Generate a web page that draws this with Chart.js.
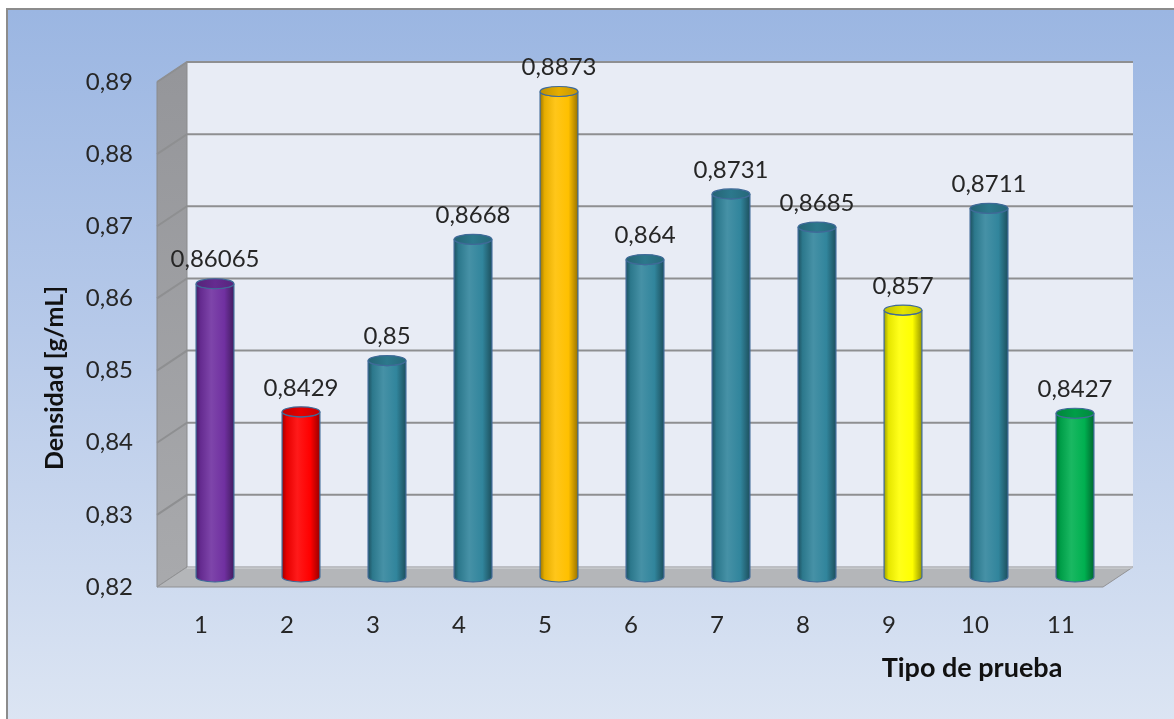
<!DOCTYPE html>
<html>
<head>
<meta charset="utf-8">
<script src="https://cdn.jsdelivr.net/npm/chart.js@4.4.0/dist/chart.umd.min.js"></script>
<style>
    body { margin: 0; background: #fff; overflow: hidden; }
    #frame {
        position: absolute;
        left: 6px;
        top: 8px;
        width: 1170px;
        height: 712px;
        border: 2px solid #8c8c8c;
        background: linear-gradient(to bottom, #9bb6e2 0%, #b6c9e9 45%, #dce5f3 100%);
    }
</style>
</head>
<body>
<div id="frame"><canvas id="myChart" width="1170" height="712"></canvas></div>
<script>
const categories = ['1', '2', '3', '4', '5', '6', '7', '8', '9', '10', '11'];
const densities = [0.86065, 0.8429, 0.85, 0.8668, 0.8873, 0.864, 0.8731, 0.8685, 0.857, 0.8711, 0.8427];
const barColors = ['#7030a0', '#ff0000', '#31859c', '#31859c', '#ffc000', '#31859c',
                   '#31859c', '#31859c', '#ffff00', '#31859c', '#00b050'];
const yMin = 0.82;
const yMax = 0.89;
const yStep = 0.01;
const yTitle = 'Densidad [g/mL]';
const xTitle = 'Tipo de prueba';

// half depth of the 3D box
const DX = 15, DY = 10;
const textColor = '#262626';

function formatComma(v, digits) {
    const s = digits === undefined ? String(v) : v.toFixed(digits);
    return s.replace('.', ',');
}

function shade(hex, amt) {
    const n = parseInt(hex.slice(1), 16);
    let r = (n >> 16) & 255, g = (n >> 8) & 255, b = n & 255;
    const t = amt < 0 ? 0 : 255;
    const p = Math.abs(amt);
    r = Math.round(r + (t - r) * p);
    g = Math.round(g + (t - g) * p);
    b = Math.round(b + (t - b) * p);
    return `rgb(${r},${g},${b})`;
}

function poly(ctx, pts, fill, stroke) {
    ctx.beginPath();
    ctx.moveTo(pts[0][0], pts[0][1]);
    for (let i = 1; i < pts.length; i++) ctx.lineTo(pts[i][0], pts[i][1]);
    ctx.closePath();
    ctx.fillStyle = fill;
    ctx.fill();
    if (stroke) {
        ctx.strokeStyle = stroke;
        ctx.lineWidth = 1;
        ctx.stroke();
    }
}

function drawCylinder(ctx, x, top, base, w, color) {
    const rx = w / 2, ry = 5;
    const g = ctx.createLinearGradient(x - rx, 0, x + rx, 0);
    g.addColorStop(0, shade(color, -0.38));
    g.addColorStop(0.12, shade(color, -0.1));
    g.addColorStop(0.4, shade(color, 0.1));
    g.addColorStop(0.75, color);
    g.addColorStop(1, shade(color, -0.4));

    ctx.beginPath();
    ctx.moveTo(x - rx, top);
    ctx.lineTo(x - rx, base);
    ctx.ellipse(x, base, rx, ry, 0, Math.PI, 0, true);
    ctx.lineTo(x + rx, top);
    ctx.ellipse(x, top, rx, ry, 0, 0, Math.PI, false);
    ctx.closePath();
    ctx.fillStyle = g;
    ctx.fill();
    ctx.strokeStyle = '#3f6a98';
    ctx.lineWidth = 1.2;
    ctx.stroke();

    const tg = ctx.createLinearGradient(x - rx, 0, x + rx, 0);
    tg.addColorStop(0, shade(color, -0.25));
    tg.addColorStop(0.5, shade(color, -0.1));
    tg.addColorStop(1, shade(color, -0.22));
    ctx.beginPath();
    ctx.ellipse(x, top, rx, ry, 0, 0, Math.PI * 2);
    ctx.fillStyle = tg;
    ctx.fill();
    ctx.stroke();
}

const boxPlugin = {
    id: 'box3d',
    beforeDatasetsDraw(chart) {
        const { ctx, chartArea: a, scales: { y } } = chart;
        const l = a.left, r = a.right, t = a.top, b = a.bottom;
        ctx.save();

        ctx.fillStyle = '#e8ecf5';
        ctx.fillRect(l + DX, t - DY, r - l, b - t);

        const lw = ctx.createLinearGradient(0, t, 0, b);
        lw.addColorStop(0, '#95969a');
        lw.addColorStop(1, '#a8a9ac');
        poly(ctx, [[l - DX, t + DY], [l + DX, t - DY], [l + DX, b - DY], [l - DX, b + DY]], lw, '#8a8b8d');

        ctx.strokeStyle = '#8e8f91';
        ctx.lineWidth = 2;
        for (let v = yMin + yStep; v <= yMax + 1e-9; v += yStep) {
            const py = y.getPixelForValue(v);
            ctx.beginPath();
            ctx.moveTo(l - DX, py + DY);
            ctx.lineTo(l + DX, py - DY);
            ctx.lineTo(r + DX, py - DY);
            ctx.stroke();
        }

        poly(ctx, [[l - DX, b + DY], [l + DX, b - DY], [r + DX, b - DY], [r - DX, b + DY]], '#b4b6b9', '#909193');
        ctx.strokeStyle = '#d6d8dc';
        ctx.lineWidth = 1;
        ctx.beginPath();
        ctx.moveTo(l + DX, b - DY + 1);
        ctx.lineTo(r + DX, b - DY + 1);
        ctx.stroke();
        ctx.restore();
    },
    afterDatasetsDraw(chart) {
        const { ctx, scales: { y } } = chart;
        const meta = chart.getDatasetMeta(0);
        const floorY = y.getPixelForValue(yMin);
        ctx.save();
        meta.data.forEach((bar, i) => {
            const p = bar.getProps(['x', 'y', 'width'], true);
            drawCylinder(ctx, p.x, p.y, floorY, p.width, barColors[i]);
        });

        ctx.fillStyle = textColor;
        ctx.font = '24px Lato';
        ctx.textAlign = 'center';
        ctx.textBaseline = 'middle';
        meta.data.forEach((bar, i) => {
            ctx.fillText(formatComma(densities[i]), bar.x, bar.y - 24);
        });
        ctx.restore();
    },
    afterDraw(chart) {
        const { ctx } = chart;
        ctx.save();
        ctx.fillStyle = '#111';
        ctx.font = 'bold 25px Lato';
        ctx.textAlign = 'center';
        ctx.textBaseline = 'middle';
        ctx.translate(47, 368);
        ctx.rotate(-Math.PI / 2);
        ctx.fillText(yTitle, 0, 0);
        ctx.restore();

        ctx.save();
        ctx.fillStyle = '#111';
        ctx.font = 'bold 27px Lato';
        ctx.textAlign = 'center';
        ctx.textBaseline = 'middle';
        ctx.fillText(xTitle, 964, 658);
        ctx.restore();
    }
};

function buildChart() {
    const ctx = document.getElementById('myChart').getContext('2d');
    new Chart(ctx, {
        type: 'bar',
        data: {
            labels: categories,
            datasets: [{
                data: densities,
                backgroundColor: 'rgba(0,0,0,0)',
                borderWidth: 0,
                categoryPercentage: 1,
                barPercentage: 0.44
            }]
        },
        options: {
            responsive: false,
            animation: false,
            layout: { padding: { left: 0, top: 62, right: 60, bottom: 0 } },
            plugins: {
                legend: { display: false },
                tooltip: { enabled: false }
            },
            scales: {
                x: {
                    grid: { display: false, drawTicks: false },
                    border: { display: false },
                    ticks: {
                        color: textColor,
                        font: { family: 'Lato', size: 24 },
                        padding: 34,
                        labelOffset: -14,
                        maxRotation: 0
                    },
                    afterFit: s => { s.height = 145; }
                },
                y: {
                    min: yMin,
                    max: yMax,
                    grid: { display: false, drawTicks: false },
                    border: { display: false },
                    ticks: {
                        stepSize: yStep,
                        color: textColor,
                        font: { family: 'Lato', size: 24 },
                        padding: 39,
                        labelOffset: 10,
                        callback: v => formatComma(v, 2)
                    },
                    afterFit: s => { s.width = 164; }
                }
            }
        },
        plugins: [boxPlugin]
    });
}

Promise.all([
    document.fonts.load('24px Lato'),
    document.fonts.load('bold 24px Lato')
]).catch(() => {}).then(buildChart);
</script>
</body>
</html>
